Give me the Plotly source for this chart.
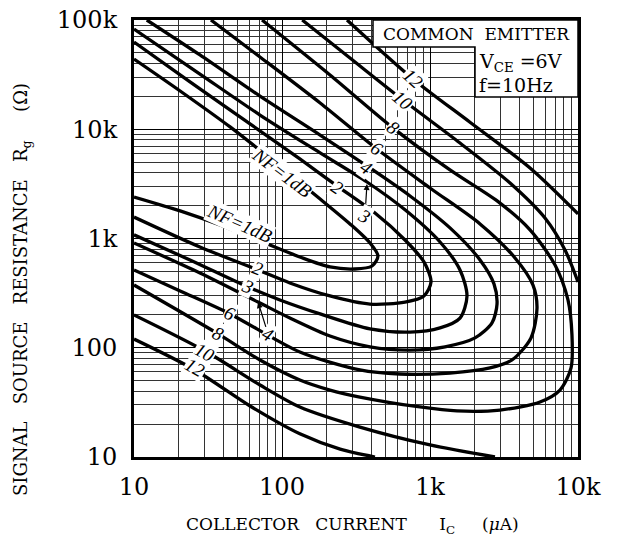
import math
import plotly.graph_objects as go

# ---- data (Ic in uA, Rg in ohm) ----
nf1_ic = [10, 20.5, 44.6, 100, 181, 288, 393, 445, 406, 311, 211, 132, 71, 38.1, 20.5, 10]
nf1_rg = [43900, 22400, 10500, 4420, 2300, 1360, 910, 692, 560, 526, 549, 678, 948, 1330, 1790, 2400]

nf2_ic = [10, 23.9, 60.8, 132, 235, 425, 678, 910, 1016, 910, 678, 393, 211, 113, 68.9, 27.9, 10]
nf2_rg = [62900, 27100, 11200, 5350, 3030, 1710, 969, 610, 400, 298, 262, 251, 298, 392, 515, 836, 1570]

nf3_ic = [10, 27.9, 71, 181, 375, 678, 1169, 1595, 1778, 1595, 1169, 733, 393, 181, 96.8, 58.9, 23.9, 10]
nf3_rg = [82700, 32000, 13500, 6070, 3290, 1830, 929, 515, 298, 187, 152, 139, 149, 204, 274, 360, 636, 1080]

nf4_ic = [12.2, 27.9, 71, 181, 375, 733, 1365, 2178, 2706, 2837, 2624, 2014, 1263, 733, 393, 211, 113, 68.9, 27.9, 10]
nf4_rg = [100000, 47900, 20100, 8850, 4610, 2450, 1250, 636, 384, 251, 169, 123, 102, 95.3, 102, 128, 187, 262, 483, 910]

nf6_ic = [33.1, 71, 181, 438, 1000, 2178, 3753, 4966, 5286, 4812, 3582, 2543, 1365, 627, 336, 132, 44.6, 20.5, 10]
nf6_rg = [100000, 45900, 17400, 6590, 2900, 1360, 664, 375, 231, 123, 77.3, 65.3, 58.7, 57.5, 62.6, 91.4, 204, 331, 515]

nf8_ic = [73.3, 211, 562, 1365, 2972, 4742, 6995, 8556, 9103, 8974, 7554, 5537, 2972, 1521, 855, 336, 211, 132, 71, 37, 10]
nf8_rg = [100000, 31400, 10300, 4240, 2110, 1200, 572, 274, 131, 65.3, 41, 31.9, 26.9, 26.4, 28.7, 35.4, 41, 50.7, 77.3, 134, 375]

nf10_upper_ic = [137, 288, 657, 1595, 3475, 5983, 8168, 10000]
nf10_upper_rg = [100000, 44900, 18500, 7480, 3220, 1540, 785, 400]
nf10_lower_ic = [2748, 1000, 336, 132, 71, 30.2, 10]
nf10_lower_rg = [10, 12.9, 18.8, 28.7, 45.6, 93.4, 200]

nf12_upper_ic = [275, 767, 1863, 4742, 10000]
nf12_upper_rg = [100000, 28900, 11600, 4420, 1680]
nf12_lower_ic = [425, 247, 132, 60.8, 25.8, 10]
nf12_lower_rg = [10, 11.8, 16.3, 29.3, 62.6, 120]

x_tick_vals = [10, 100, 1000, 10000]
x_tick_text = ["10", "100", "1k", "10k"]
y_tick_vals = [10, 100, 1000, 10000, 100000]
y_tick_text = ["10", "100", "1k", "10k", "100k"]

# contour labels: (text, Ic, Rg, angle)
upper_labels = [
    ("NF=1dB", 100, 4060, 37),
    ("2", 235, 2900, 35),
    ("4", 369, 4420, 35),
    ("6", 438, 6700, 35),
    ("8", 562, 10300, 38),
    ("10", 657, 18500, 40),
    ("12", 767, 28900, 42),
]
lower_labels = [
    ("NF=1dB", 52, 1360, 24),
    ("2", 68.9, 537, 22),
    ("3", 58.9, 360, 24),
    ("6", 44.6, 208, 24),
    ("8", 37, 134, 26),
    ("10", 30.2, 91.4, 28),
    ("12", 25.8, 65.3, 30),
]

SERIF = "DejaVu Serif"
NB = "\u00a0"

# plot area on screen: 134..578 x 20..457 (page body margin removed by post_script)
L, T, R, B = 134, 20, 40, 93
PW, PH = 444, 437


def px_x(sx):
    return (sx - 134) / PW


def px_y(sy):
    return (457 - sy) / PH


fig = go.Figure()

curves = [
    (nf1_ic, nf1_rg), (nf2_ic, nf2_rg), (nf3_ic, nf3_rg), (nf4_ic, nf4_rg),
    (nf6_ic, nf6_rg), (nf8_ic, nf8_rg),
    (nf10_upper_ic, nf10_upper_rg), (nf10_lower_ic, nf10_lower_rg),
    (nf12_upper_ic, nf12_upper_rg), (nf12_lower_ic, nf12_lower_rg),
]
for xs, ys in curves:
    fig.add_trace(go.Scatter(x=xs, y=ys, mode="lines",
                             line=dict(color="black", width=3.3, shape="spline", smoothing=0.8),
                             hoverinfo="skip", showlegend=False))

label_font = dict(family="Liberation Serif", size=19, color="black", style="italic")
annotations = []
for txt, xv, yv, ang in upper_labels + lower_labels:
    annotations.append(dict(x=math.log10(xv), y=math.log10(yv), xref="x", yref="y", text=txt,
                            showarrow=False, textangle=ang, bgcolor="white", borderpad=0,
                            xanchor="center", yanchor="middle", font=label_font))
# arrowed labels
annotations.append(dict(x=math.log10(375), y=math.log10(3150), xref="x", yref="y", text="3",
                        showarrow=True, ax=-2, ay=32, arrowhead=2, arrowsize=1, arrowwidth=1.2,
                        arrowcolor="black", bgcolor="white", borderpad=0, textangle=30,
                        font=label_font))
annotations.append(dict(x=math.log10(68.9), y=math.log10(262), xref="x", yref="y", text="4",
                        showarrow=True, ax=10, ay=32, arrowhead=2, arrowsize=1, arrowwidth=1.2,
                        arrowcolor="black", bgcolor="white", borderpad=0, textangle=30,
                        font=label_font))

# condition box text
annotations.append(dict(x=px_x(476), y=px_y(34), xref="paper", yref="paper",
                        text="COMMON" + NB * 2 + "EMITTER", showarrow=False,
                        xanchor="center", yanchor="middle",
                        font=dict(family=SERIF, size=17, color="black")))
annotations.append(dict(x=px_x(477), y=px_y(62), xref="paper", yref="paper",
                        text="V<sub>CE</sub>" + NB + "=6V", showarrow=False,
                        xanchor="left", yanchor="middle",
                        font=dict(family=SERIF, size=19, color="black")))
annotations.append(dict(x=px_x(477), y=px_y(85), xref="paper", yref="paper",
                        text="f=10Hz", showarrow=False, xanchor="left", yanchor="middle",
                        font=dict(family=SERIF, size=19, color="black")))
# axis titles
annotations.append(dict(x=px_x(352), y=px_y(525), xref="paper", yref="paper",
                        text="COLLECTOR" + NB * 3 + "CURRENT" + NB * 6 + "I<sub>C</sub>" + NB * 5 + "(<i>μ</i>A)",
                        showarrow=False, xanchor="center", yanchor="middle",
                        font=dict(family=SERIF, size=17, color="black")))
annotations.append(dict(x=px_x(22), y=px_y(290), xref="paper", yref="paper",
                        text="SIGNAL" + NB * 3 + "SOURCE" + NB * 3 + "RESISTANCE" + NB * 3 + "R<sub>g</sub>" + NB * 5 + "(Ω)",
                        showarrow=False, textangle=-90, xanchor="center", yanchor="middle",
                        font=dict(family=SERIF, size=18, color="black")))

box = dict(type="path", xref="paper", yref="paper",
           path="M {a},1 L 1,1 L 1,{c} L {b},{c} L {b},{d} L {a},{d} Z".format(
               a=px_x(373), b=px_x(475), c=px_y(97), d=px_y(47)),
           fillcolor="white", line=dict(color="black", width=1.5), layer="above")

axis_common = dict(type="log", showline=True, linecolor="black", linewidth=3, mirror=True,
                   showgrid=True, gridcolor="black", gridwidth=1.4, ticks="", zeroline=False,
                   automargin=False, ticklabeloverflow="allow",
                   tickfont=dict(family=SERIF, size=24, color="black"),
                   minor=dict(showgrid=True, gridcolor="#333333", gridwidth=1, dtick="D1", ticks=""))

fig.update_layout(
    width=618, height=550,
    margin=dict(l=L, r=R, t=T, b=B, autoexpand=False),
    paper_bgcolor="white", plot_bgcolor="white",
    xaxis=dict(range=[1, 4], tickvals=x_tick_vals, ticktext=x_tick_text, ticklabelstandoff=6, **axis_common),
    yaxis=dict(range=[1, 5], tickvals=y_tick_vals, ticktext=y_tick_text, ticklabelstandoff=9, **axis_common),
    annotations=annotations,
    shapes=[box],
)

fig.write_html("out.html", config={"displayModeBar": False},
               post_script="document.body.style.margin='0';")
